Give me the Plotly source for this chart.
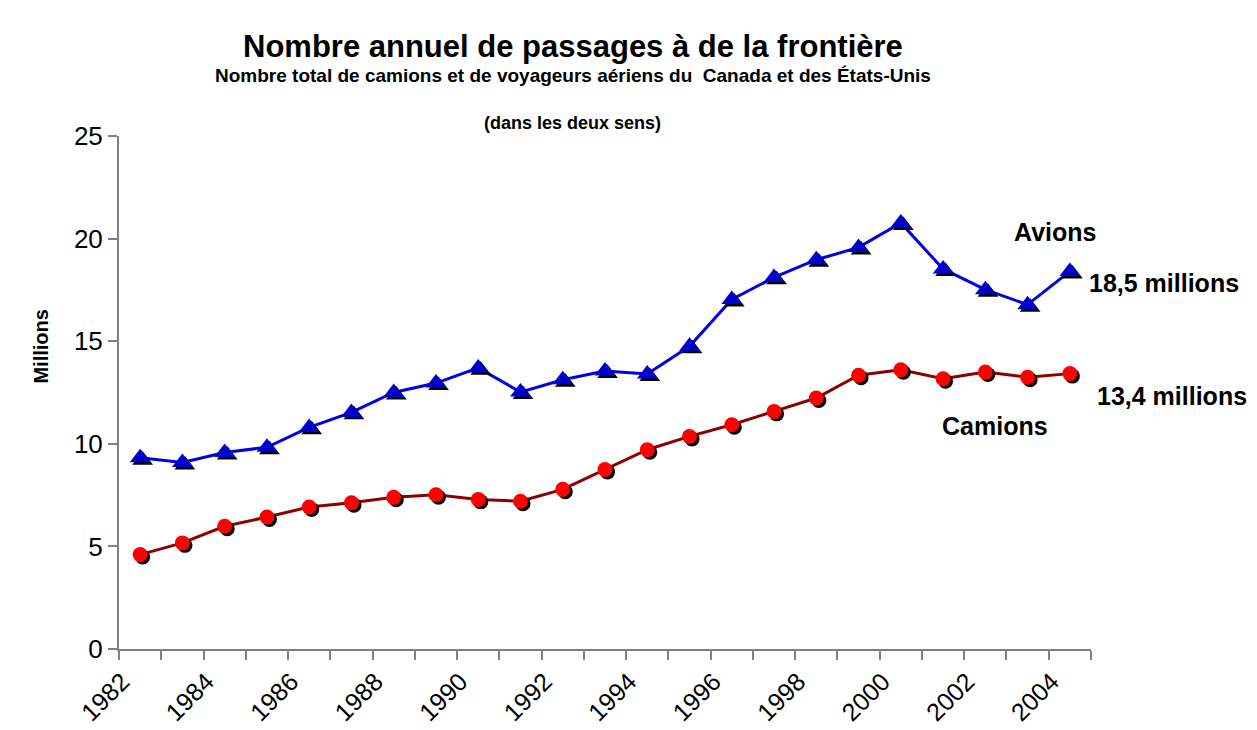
import plotly.graph_objects as go

years = list(range(1982, 2005))
avions = [9.32, 9.09, 9.58, 9.83, 10.80, 11.53, 12.50, 12.96, 13.70, 12.52, 13.12,
          13.55, 13.40, 14.75, 17.03, 18.11, 18.97, 19.57, 20.76, 18.52, 17.51, 16.78, 18.40]
camions = [4.60, 5.17, 5.98, 6.43, 6.92, 7.13, 7.39, 7.52, 7.29, 7.20, 7.78,
           8.75, 9.71, 10.36, 10.93, 11.58, 12.23, 13.34, 13.61, 13.17, 13.50, 13.24, 13.42]
label_years = [y for y in years if y % 2 == 0]
boundaries = [y - 0.5 for y in years] + [years[-1] + 0.5]

SANS = "Liberation Sans, Arial, sans-serif"

xr = [years[0] - 0.5, years[-1] + 0.5]
yr = [0, 25]
# shadow offset (in data units ~2px)
dx = 0.06
dy = 0.12

fig = go.Figure()
# shadows
fig.add_trace(go.Scatter(x=years, y=avions, mode="markers", xaxis="x2", yaxis="y2",
                         marker=dict(symbol="triangle-up", size=18, color="black"),
                         hoverinfo="skip", showlegend=False))
fig.add_trace(go.Scatter(x=years, y=camions, mode="markers", xaxis="x2", yaxis="y2",
                         marker=dict(symbol="circle", size=15, color="black"),
                         hoverinfo="skip", showlegend=False))
# lines
fig.add_trace(go.Scatter(x=years, y=avions, mode="lines", name="Avions",
                         line=dict(color="#0000E6", width=3), showlegend=False))
fig.add_trace(go.Scatter(x=years, y=camions, mode="lines", name="Camions",
                         line=dict(color="#8B0000", width=3), showlegend=False))
fig.add_trace(go.Scatter(x=years, y=avions, mode="markers", xaxis="x3", yaxis="y3",
                         marker=dict(symbol="triangle-up", size=18, color="#0000CC"),
                         showlegend=False))
fig.add_trace(go.Scatter(x=years, y=camions, mode="markers", xaxis="x3", yaxis="y3",
                         marker=dict(symbol="circle", size=15, color="#FF0000"),
                         showlegend=False))

fig.update_layout(
    width=1257, height=730,
    margin=dict(l=111, r=174, t=128, b=89),
    paper_bgcolor="white", plot_bgcolor="white",
    showlegend=False,
    xaxis=dict(range=xr, showgrid=False, zeroline=False, automargin=False,
               showline=True, linecolor="#808080", linewidth=2,
               tickmode="array", tickvals=label_years, ticktext=[str(y) for y in label_years],
               ticks="", tickangle=-45,
               tickfont=dict(family=SANS, size=25, color="black"),
               ticklabelshift=-18, ticklabelstandoff=6,
               minor=dict(tickmode="array", tickvals=boundaries, ticks="outside",
                          ticklen=9, tickwidth=2, tickcolor="#808080", showgrid=False)),
    yaxis=dict(range=yr, showgrid=False, zeroline=False, automargin=False,
               showline=True, linecolor="#808080", linewidth=2,
               tickmode="array", tickvals=[0, 5, 10, 15, 20, 25],
               ticks="outside", ticklen=9, tickwidth=2, tickcolor="#808080",
               tickfont=dict(family=SANS, size=26, color="black")),
    xaxis2=dict(range=[xr[0] - dx, xr[1] - dx], overlaying="x", visible=False),
    yaxis2=dict(range=[yr[0] + dy, yr[1] + dy], overlaying="y", visible=False),
    xaxis3=dict(range=xr, overlaying="x", visible=False),
    yaxis3=dict(range=yr, overlaying="y", visible=False),
)

def pap(text, x, y, size, angle=0):
    return dict(text=text, xref="paper", yref="paper", x=x, y=y,
                xanchor="center", yanchor="middle", showarrow=False, textangle=angle,
                font=dict(family=SANS, size=size, color="black"))

ann = [
    pap("<b>Nombre annuel de passages à de la frontière</b>", 0.467, 1.175, 31),
    pap("<b>Nombre total de camions et de voyageurs aériens du  Canada et des États-Unis</b>", 0.467, 1.118, 19),
    pap("<b>(dans les deux sens)</b>", 0.467, 1.025, 18),
    pap("<b>Millions</b>", -0.080, 0.590, 20, -90),
    pap("<b>Avions</b>", 0.963, 0.813, 25),
    pap("<b>18,5 millions</b>", 1.075, 0.713, 25),
    pap("<b>13,4 millions</b>", 1.083, 0.493, 25),
    pap("<b>Camions</b>", 0.901, 0.435, 25),
]
fig.update_layout(annotations=ann)

fig.write_html("out.html")
